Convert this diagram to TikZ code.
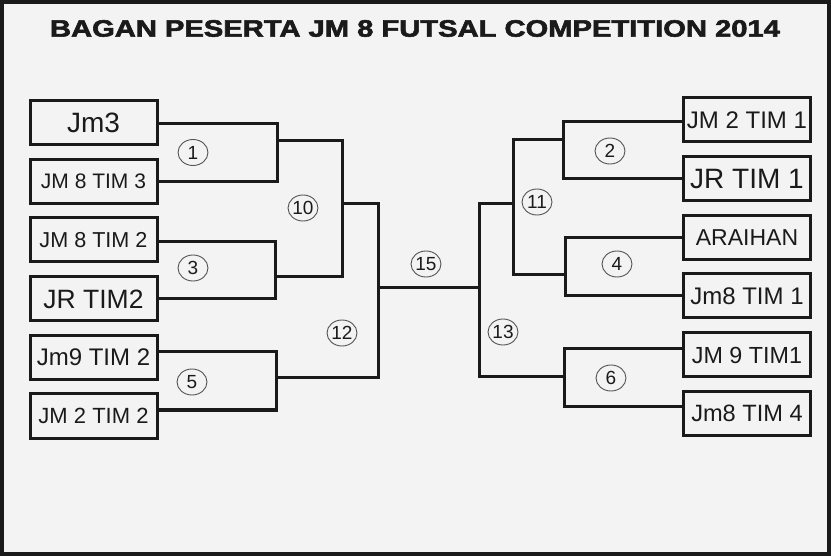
\documentclass[tikz,border=0pt]{standalone}
\usepackage{fontspec}
\setmainfont{Liberation Sans}
\newfontfamily\titlefont{Liberation Sans Bold}[FakeBold=2.2]
\usetikzlibrary{shapes.geometric}
\definecolor{bg}{HTML}{F3F3F3}
\definecolor{ink}{HTML}{1A1A1A}
\newcommand{\fsz}[1]{\fontsize{#1}{#1}\selectfont}
\begin{document}
\begin{tikzpicture}[x=1pt,y=-1pt,
  team/.style={draw=ink,line width=3pt,fill=bg,minimum width=127pt,minimum height=44pt,inner sep=0pt,text=ink},
  wire/.style={draw=ink,line width=3pt,line join=miter},
  num/.style={ellipse,draw=ink!75,line width=0.9pt,minimum width=30pt,minimum height=26pt,inner sep=0pt,text=ink,font=\fsz{19}}]
\useasboundingbox (0,0) rectangle (831,556);
\fill[bg] (0,0) rectangle (831,556);
\draw[ink,line width=4pt] (2,2) rectangle (829,553.5);

\node[text=ink] (title) at (415,28.5) {\scalebox{1.23}[1]{\titlefont\fsz{23.7}BAGAN PESERTA JM 8 FUTSAL COMPETITION 2014}};

% left teams
\node[team,font=\fsz{28}]   (L1) at (93.5,123)   {Jm3};
\node[team,font=\fsz{21}]   (L2) at (93.5,181.5) {JM 8 TIM 3};
\node[team,font=\fsz{21.6}] (L3) at (93.5,240)   {JM 8 TIM 2};
\node[team,font=\fsz{26.5}] (L4) at (93.5,299)   {JR TIM2};
\node[team,font=\fsz{24}]   (L5) at (93.5,357.5) {Jm9 TIM 2};
\node[team,font=\fsz{22}]   (L6) at (93.5,416)   {JM 2 TIM 2};

% right teams
\node[team,font=\fsz{24}]   (R1) at (747,120)   {JM 2 TIM 1};
\node[team,font=\fsz{28}]   (R2) at (747,179)   {JR TIM 1};
\node[team,font=\fsz{23}]   (R3) at (747,238)   {ARAIHAN};
\node[team,font=\fsz{24}]   (R4) at (747,296)   {Jm8 TIM 1};
\node[team,font=\fsz{23.3}] (R5) at (747,355)   {JM 9 TIM1};
\node[team,font=\fsz{23.6}] (R6) at (747,413.5) {Jm8 TIM 4};

% joint coordinates
\coordinate (j1) at (277,152);
\coordinate (j3) at (275,270);
\coordinate (j5) at (276,380);
\coordinate (a1) at (277,141);
\coordinate (a3) at (275,277);
\coordinate (c10) at (342,200);
\coordinate (a10) at (342,204);
\coordinate (a5) at (276,378);
\coordinate (c12) at (378,290);
\coordinate (a12) at (378,288);
\coordinate (a13) at (479,288);
\coordinate (j2) at (563,150);
\coordinate (j4) at (565,265);
\coordinate (j6) at (564,380);
\coordinate (a2) at (563,140);
\coordinate (a4) at (565,275);
\coordinate (c11) at (513,200);
\coordinate (a11) at (513,204);
\coordinate (a6) at (564,377);
\coordinate (c13) at (479,290);

% left brackets
\draw[wire] ([yshift=-1pt]L1.east) -| (j1) |- ([yshift=-0.5pt]L2.east);
\draw[wire] ([yshift=-2pt]L3.east) -| (j3) |- (L4.east);
\draw[wire] ([yshift=5.5pt]L5.east) -| (j5) |- ([yshift=6pt]L6.east);
\draw[wire] (a1) -| (c10) |- (a3);
\draw[wire] (a10) -| (c12) |- (a5);
\draw[wire] (a12) -- (a13);

% right brackets
\draw[wire] ([yshift=-2pt]R1.west) -| (j2) |- (R2.west);
\draw[wire] (R3.west) -| (j4) |- (R4.west);
\draw[wire] ([yshift=6pt]R5.west) -| (j6) |- ([yshift=6.5pt]R6.west);
\draw[wire] (a2) -| (c11) |- (a4);
\draw[wire] (a11) -| (c13) |- (a6);

% match numbers
\node[num] (n1)  at (193,152.5) {1};
\node[num] (n3)  at (193,268)   {3};
\node[num] (n5)  at (192,382)   {5};
\node[num] (n10) at (303,208)   {10};
\node[num] (n12) at (342,333)   {12};
\node[num] (n15) at (426,264)   {15};
\node[num] (n2)  at (610,151)   {2};
\node[num] (n11) at (537,202)   {11};
\node[num] (n4)  at (617,264)   {4};
\node[num] (n13) at (503,332)   {13};
\node[num] (n6)  at (611,378)   {6};
\end{tikzpicture}
\end{document}
